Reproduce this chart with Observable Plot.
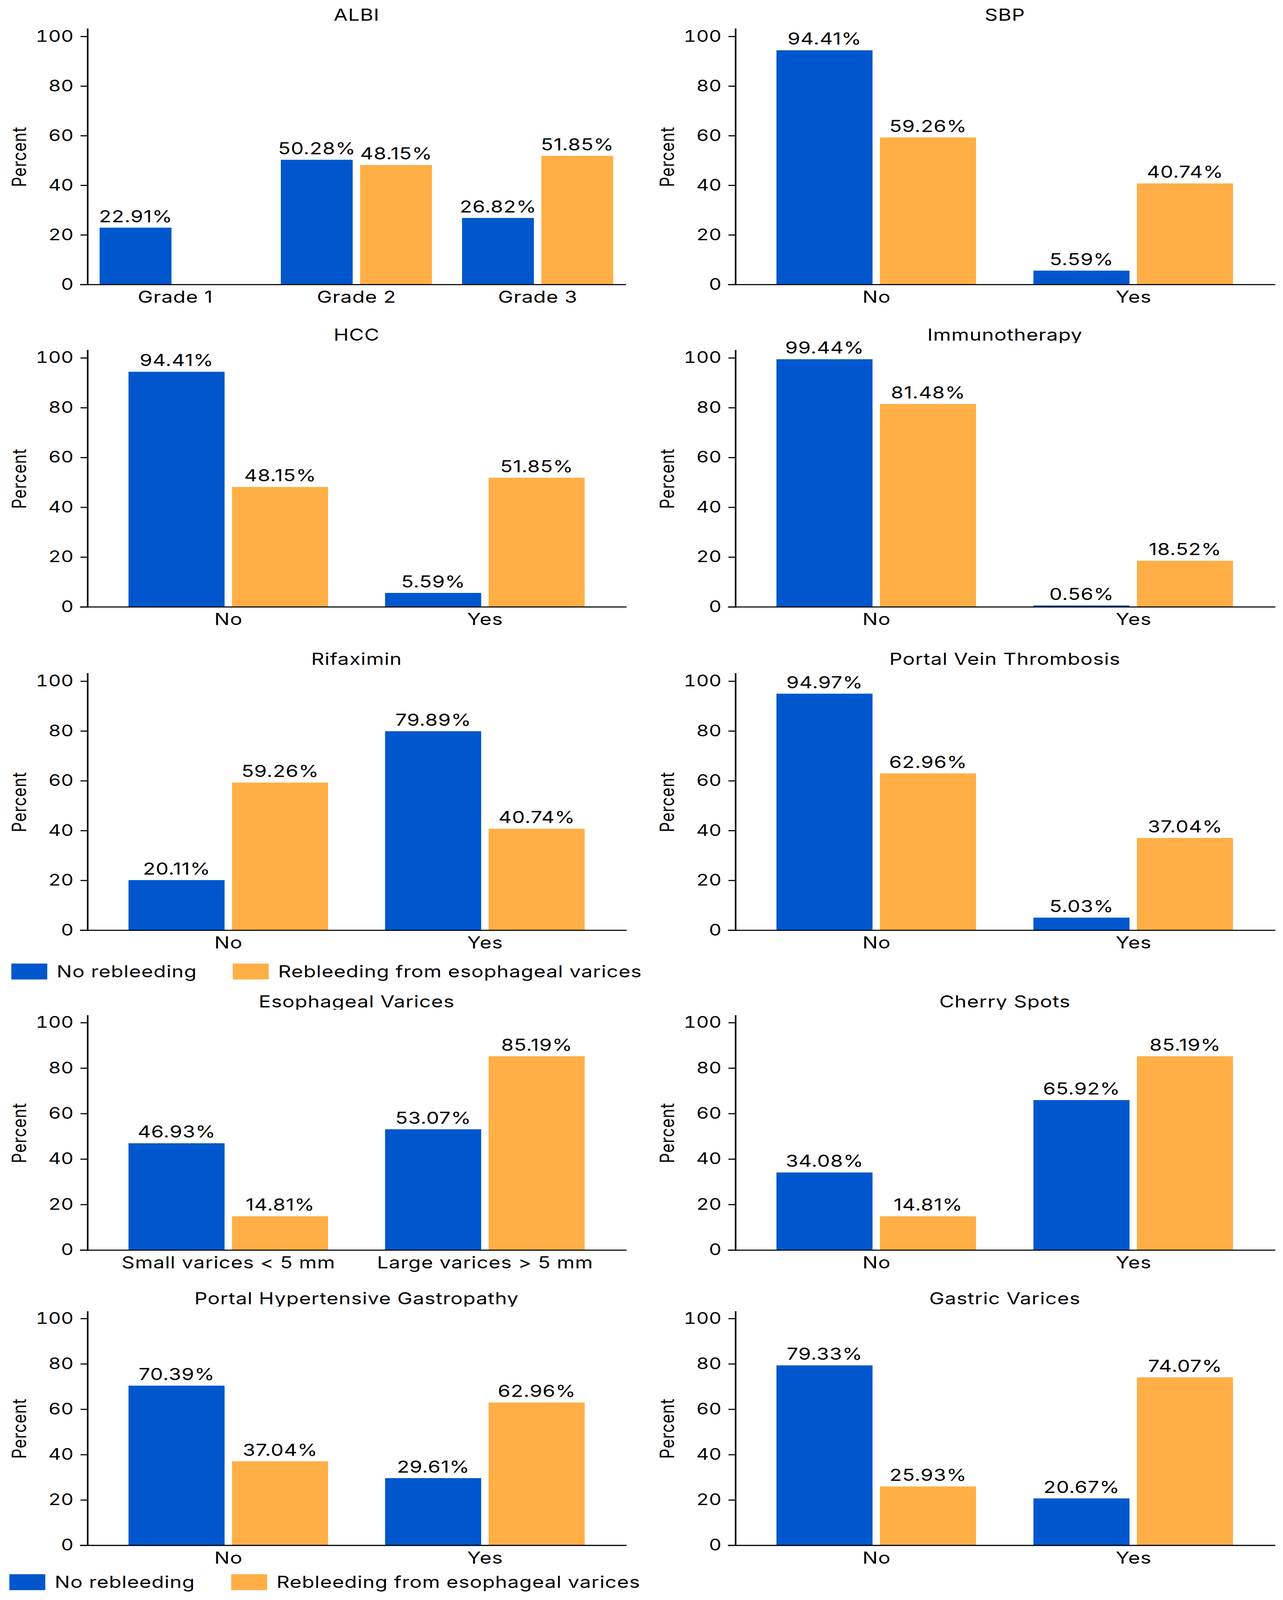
<!DOCTYPE html>
<html><head><meta charset="utf-8">
<script src="https://cdn.jsdelivr.net/npm/d3@7"></script>
<script src="https://cdn.jsdelivr.net/npm/@observablehq/plot@0.6"></script>
<style>
html,body{margin:0;padding:0;background:#fff;}
html{overflow:hidden;}
body{width:3285px;height:4096px;overflow:hidden;font-family:Inter,sans-serif;color:#000;}
#page{position:relative;width:3285px;height:5028px;transform-origin:0 0;}
.panel{position:absolute;}
.title{position:absolute;height:50px;line-height:50px;font-size:52px;letter-spacing:1px;text-align:center;white-space:nowrap;}
.chart{position:absolute;left:0;}
.leg{position:absolute;display:flex;align-items:center;height:50px;font-size:52px;letter-spacing:1px;line-height:50px;white-space:nowrap;}
.sw{width:92px;height:50px;margin-right:24px;flex:none;}
</style></head><body>
<div id="page"></div>
<script>
// ---------- data ----------
const series = ["No rebleeding", "Rebleeding from esophageal varices"];
const colors = ["#0057cd", "#ffaf46"];
const yTicks = [0, 20, 40, 60, 80, 100];

const albiCats = ["Grade 1", "Grade 2", "Grade 3"];
const yesNo = ["No", "Yes"];
const varicesCats = ["Small varices < 5 mm", "Large varices > 5 mm"];

const albiNo = [22.91, 50.28, 26.82];
const albiRe = [null, 48.15, 51.85];
const sbpNo = [94.41, 5.59];
const sbpRe = [59.26, 40.74];
const hccNo = [94.41, 5.59];
const hccRe = [48.15, 51.85];
const immunoNo = [99.44, 0.56];
const immunoRe = [81.48, 18.52];
const rifaxNo = [20.11, 79.89];
const rifaxRe = [59.26, 40.74];
const pvtNo = [94.97, 5.03];
const pvtRe = [62.96, 37.04];
const evNo = [46.93, 53.07];
const evRe = [14.81, 85.19];
const csNo = [34.08, 65.92];
const csRe = [14.81, 85.19];
const phgNo = [70.39, 29.61];
const phgRe = [37.04, 62.96];
const gvNo = [79.33, 20.67];
const gvRe = [25.93, 74.07];

const panels = [
  {title: "ALBI", cats: albiCats, no: albiNo, re: albiRe, col: 0, row: 0},
  {title: "SBP", cats: yesNo, no: sbpNo, re: sbpRe, col: 1, row: 0},
  {title: "HCC", cats: yesNo, no: hccNo, re: hccRe, col: 0, row: 1},
  {title: "Immunotherapy", cats: yesNo, no: immunoNo, re: immunoRe, col: 1, row: 1},
  {title: "Rifaximin", cats: yesNo, no: rifaxNo, re: rifaxRe, col: 0, row: 2},
  {title: "Portal Vein Thrombosis", cats: yesNo, no: pvtNo, re: pvtRe, col: 1, row: 2},
  {title: "Esophageal Varices", cats: varicesCats, no: evNo, re: evRe, col: 0, row: 3},
  {title: "Cherry Spots", cats: yesNo, no: csNo, re: csRe, col: 1, row: 3},
  {title: "Portal Hypertensive Gastropathy", cats: yesNo, no: phgNo, re: phgRe, col: 0, row: 4},
  {title: "Gastric Varices", cats: yesNo, no: gvNo, re: gvRe, col: 1, row: 4}
];

// ---------- layout ----------
// the layout is drawn at 3285x5028 and fitted to the visible window height
const page = document.getElementById("page");
const fit = Math.min(1, (window.innerHeight || 5028) / 5028);
page.style.transform = "scaleY(" + fit + ")";

const colGeom = [
  {left: 0, width: 1642, marginLeft: 223, marginRight: 39},
  {left: 1642, width: 1643, marginLeft: 240, marginRight: 21}
];
const rowGeom = [
  {top: 22, marginTop: 19, frameH: 803},
  {top: 1028, marginTop: 23, frameH: 806},
  {top: 2046, marginTop: 21, frameH: 806},
  {top: 3123, marginTop: 19, frameH: 736},
  {top: 4056, marginTop: 16, frameH: 734}
];
const titleH = 50, marginBottom = 80;

function makePanel(p) {
  const g = colGeom[p.col], r = rowGeom[p.row];
  const rows = p.cats.flatMap((c, i) => [
    {cat: c, series: series[0], value: p.no[i]},
    {cat: c, series: series[1], value: p.re[i]}
  ]).filter(d => d.value != null);
  const three = p.cats.length === 3;
  const chart = Plot.plot({
    width: g.width,
    height: r.marginTop + r.frameH + marginBottom,
    marginLeft: g.marginLeft,
    marginRight: g.marginRight,
    marginTop: r.marginTop,
    marginBottom,
    style: {fontFamily: "Inter", fontSize: "52px", color: "#000", background: "#fff", overflow: "visible", letterSpacing: "1px"},
    fx: {domain: p.cats, paddingInner: three ? 0.032 : -0.0973, paddingOuter: 0, label: null},
    x: {domain: series, paddingInner: three ? 0.093 : 0.0714, paddingOuter: three ? 0.147 : 0.393, axis: null},
    y: {domain: [0, 103], label: "Percent"},
    color: {domain: series, range: colors},
    marks: [
      Plot.barY(rows, {fx: "cat", x: "series", y: "value", fill: "series"}),
      Plot.text(rows, {fx: "cat", x: "series", y: "value", text: d => d.value.toFixed(2) + "%",
        lineAnchor: "bottom", dy: -18, fontSize: 52, fill: "#000"}),
      Plot.axisFx({anchor: "bottom", tickSize: 0, tickPadding: 20, label: null, fontSize: 52}),
      Plot.axisY({ticks: yTicks, tickSize: 18, tickPadding: 18, strokeWidth: 3.5,
        fontSize: 50, label: "Percent", labelAnchor: "center", labelOffset: 193, labelArrow: "none"}),
      Plot.frame({facet: "super", anchor: "left", strokeWidth: 4}),
      Plot.frame({facet: "super", anchor: "bottom", strokeWidth: 3.5, insetLeft: -18})
    ]
  });
  chart.querySelectorAll('g[aria-label="y-axis tick label"] text').forEach(t => t.style.letterSpacing = "0px");
  const div = document.createElement("div");
  div.className = "panel";
  div.style.left = g.left + "px";
  div.style.top = r.top + "px";
  div.style.width = g.width + "px";
  const t = document.createElement("div");
  t.className = "title";
  t.textContent = p.title;
  t.style.left = g.marginLeft + "px";
  t.style.width = (g.width - g.marginLeft - g.marginRight) + "px";
  t.style.top = "0px";
  div.appendChild(t);
  chart.classList.add("chart");
  chart.style.top = titleH + "px";
  div.appendChild(chart);
  page.appendChild(div);
}
panels.forEach(makePanel);

// ---------- legends ----------
function legend(top, left1, left2) {
  [[left1, 0], [left2, 1]].forEach(([left, i]) => {
    const d = document.createElement("div");
    d.className = "leg";
    d.style.left = left + "px";
    d.style.top = top + "px";
    const sw = document.createElement("div");
    sw.className = "sw";
    sw.style.background = colors[i];
    const tx = document.createElement("span");
    tx.textContent = series[i];
    d.appendChild(sw);
    d.appendChild(tx);
    page.appendChild(d);
  });
}
legend(3028, 29, 596);
legend(4947, 24, 592);
</script>
</body></html>
